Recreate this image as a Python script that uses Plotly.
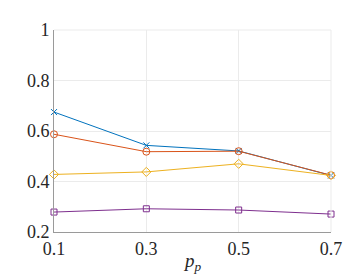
import plotly.graph_objects as go

x_vals = [0.1, 0.3, 0.5, 0.7]
blue_vals = [0.675, 0.543, 0.521, 0.424]
orange_vals = [0.587, 0.518, 0.520, 0.425]
yellow_vals = [0.428, 0.438, 0.470, 0.424]
purple_vals = [0.279, 0.292, 0.287, 0.271]
x_ticks = [0.1, 0.3, 0.5, 0.7]
y_ticks = [0.2, 0.4, 0.6, 0.8, 1.0]
y_tick_text = ["0.2", "0.4", "0.6", "0.8", "1"]

series = [
    (blue_vals, "#0072BD", "x-thin-open", 6),
    (orange_vals, "#D95319", "circle-open", 7),
    (yellow_vals, "#EDB120", "diamond-open", 7),
    (purple_vals, "#7E2F8E", "square-open", 6),
]

fig = go.Figure()
for vals, col, sym, sz in series:
    fig.add_trace(go.Scatter(
        x=x_vals, y=vals, mode="lines+markers", cliponaxis=False,
        line=dict(color=col, width=1),
        marker=dict(symbol=sym, size=sz, color=col, line=dict(color=col, width=1)),
        showlegend=False,
    ))

font_family = "Liberation Serif"
fig.update_layout(
    width=359, height=275,
    margin=dict(l=46, r=35.5, t=20, b=51),
    paper_bgcolor="white", plot_bgcolor="white",
    font=dict(family=font_family, size=18, color="#262626"),
    xaxis=dict(
        range=[0.1, 0.7], tickvals=x_ticks, ticktext=[str(v) for v in x_ticks],
        tickfont=dict(family=font_family, size=18, color="#262626"),
        showgrid=True, gridcolor="#EBEBEB", gridwidth=1,
        showline=True, linecolor="#9A9A9A", linewidth=1, mirror=False,
        zeroline=False, ticks="", ticklen=0,
    ),
    yaxis=dict(
        range=[0.2, 1.0], tickvals=y_ticks, ticktext=y_tick_text,
        tickfont=dict(family=font_family, size=18, color="#262626"),
        showgrid=True, gridcolor="#EBEBEB", gridwidth=1,
        showline=True, linecolor="#9A9A9A", linewidth=1,
        zeroline=False, ticks="", ticklen=0,
    ),
    annotations=[
        dict(text="<i>p</i><sub><i>p</i></sub>", xref="paper", yref="paper",
             x=0.5, y=0, yshift=-16, xanchor="center", yanchor="top",
             showarrow=False, font=dict(family=font_family, size=19, color="#262626")),
    ],
    shapes=[
        dict(type="line", xref="paper", yref="paper", x0=0, x1=1, y0=1, y1=1,
             line=dict(color="#EBEBEB", width=1)),
        dict(type="line", xref="paper", yref="paper", x0=1, x1=1, y0=0, y1=1,
             line=dict(color="#EBEBEB", width=1)),
    ],
)

fig.write_html("out.html")
